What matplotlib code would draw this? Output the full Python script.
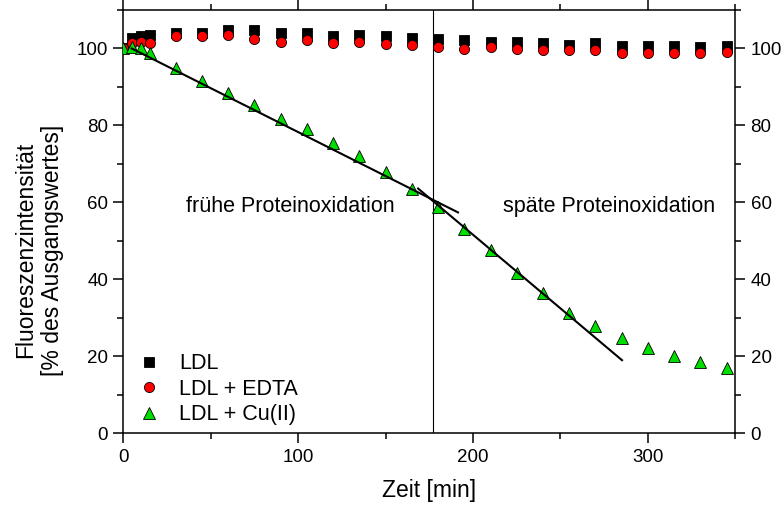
import matplotlib
matplotlib.use("Agg")
import matplotlib.pyplot as plt
from matplotlib.ticker import MultipleLocator

plt.rcParams['font.family'] = ['Liberation Sans', 'DejaVu Sans']

# time points [min]
zeit = [0, 5, 10, 15, 30, 45, 60, 75, 90, 105, 120, 135, 150, 165,
        180, 195, 210, 225, 240, 255, 270, 285, 300, 315, 330, 345]

ldl = [100, 102.8, 103.2, 103.5, 104.1, 104.1, 104.9, 104.7, 104.1, 103.9, 103.3, 103.6, 103.2, 102.8,
       102.5, 102.1, 101.8, 101.8, 101.3, 101.0, 101.3, 100.7, 100.6, 100.6, 100.3, 100.7]
ldl_edta = [100, 101.3, 101.7, 101.5, 103.3, 103.3, 103.5, 102.4, 101.7, 102.2, 101.5, 101.7, 101.1, 101.0,
            100.4, 99.8, 100.3, 99.9, 99.5, 99.5, 99.7, 98.8, 98.8, 98.8, 98.8, 99.0]
ldl_cu = [100, 100.4, 100, 98.7, 94.8, 91.5, 88.5, 85.3, 81.8, 79.0, 75.5, 72.1, 67.8, 63.6,
          58.7, 53.2, 47.6, 41.6, 36.4, 31.2, 27.9, 24.8, 22.1, 20.1, 18.5, 17.0]

# linear fits (end points)
fit_frueh_x = [4.8, 191.4]
fit_frueh_y = [100.0, 57.4]
fit_spaet_x = [168.6, 285.2]
fit_spaet_y = [63.6, 19.0]

grenze = 177

fig = plt.figure(figsize=(7.84, 5.09), dpi=100)
ax = fig.add_axes([0.1573, 0.1487, 0.7806, 0.8317])

ax.plot(zeit, ldl, 's', color='black', markersize=7, markeredgecolor='black', markeredgewidth=0.6,
        label='LDL', zorder=3)
ax.plot(zeit, ldl_edta, 'o', color='red', markersize=7.3, markeredgecolor='black', markeredgewidth=0.6,
        label='LDL + EDTA', zorder=4)
ax.plot(zeit, ldl_cu, '^', color='#00dd00', markersize=8.8, markeredgecolor='black', markeredgewidth=0.6,
        label='LDL + Cu(II)', zorder=5)

ax.plot(fit_frueh_x, fit_frueh_y, color='black', linewidth=1.5, zorder=6)
ax.plot(fit_spaet_x, fit_spaet_y, color='black', linewidth=1.5, zorder=6)
ax.axvline(grenze, color='black', linewidth=0.8, zorder=2)

ax.text(95.3, 59, 'frühe Proteinoxidation', fontsize=15.5, ha='center', va='center')
ax.text(278, 59, 'späte Proteinoxidation', fontsize=15.5, ha='center', va='center')

ax.set_xlim(0, 350)
ax.set_ylim(0, 110)
ax.xaxis.set_major_locator(MultipleLocator(100))
ax.xaxis.set_minor_locator(MultipleLocator(50))
ax.yaxis.set_major_locator(MultipleLocator(20))
ax.yaxis.set_minor_locator(MultipleLocator(10))
ax.tick_params(which='both', direction='out', top=True, right=True, labelright=True,
               labelsize=13.5, width=1.1)
ax.tick_params(which='major', length=7, pad=4)
ax.tick_params(which='minor', length=4)
for s in ax.spines.values():
    s.set_linewidth(1.1)

ax.set_xlabel('Zeit [min]', fontsize=16.5, labelpad=10)
ax.set_ylabel('Fluoreszenzintensität\n[% des Ausgangswertes]', fontsize=16.5, va='center')
ax.yaxis.set_label_coords(-0.138, 0.433)

ax.legend(loc='upper left', bbox_to_anchor=(0.0, 0.209), frameon=False, fontsize=15.5,
          handletextpad=0.6, labelspacing=0.2, borderaxespad=0.0, handlelength=1.6)

fig.savefig('out.png', dpi=100)
